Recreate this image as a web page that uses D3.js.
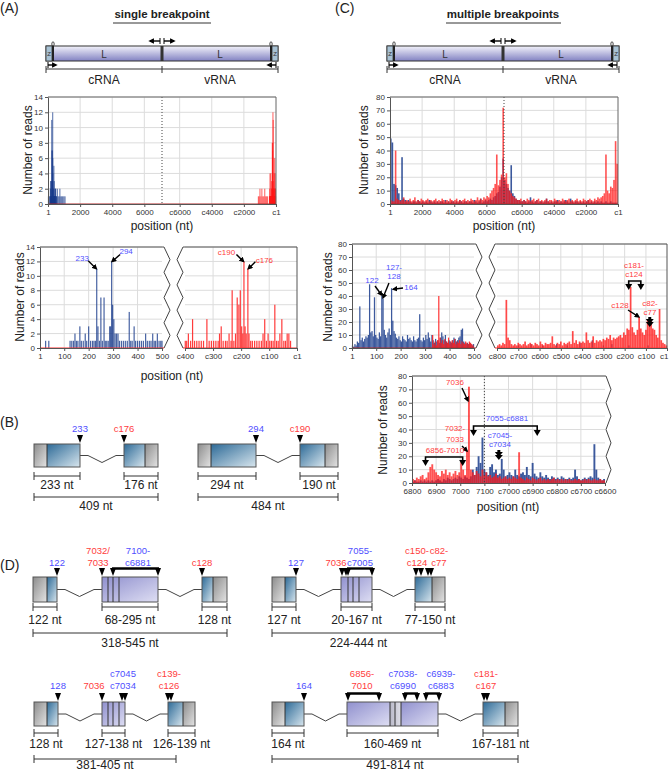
<!DOCTYPE html>
<html>
<head>
<meta charset="utf-8">
<script src="https://cdn.jsdelivr.net/npm/d3@7/dist/d3.min.js"></script>
<style>
  body { margin: 0; background: #fff; }
  svg { font-family: "Liberation Sans", Arial, sans-serif; }
</style>
</head>
<body>
<svg id="fig" width="669" height="771"></svg>
<script>
// length of the L segment on the concatenated cRNA | vRNA axis
const L = 7100;

// ---------- tick labels ----------
const overTickLabels = ["1", "2000", "4000", "6000", "c6000", "c4000", "c2000", "c1"];
const aLeftTicks = ["1", "100", "200", "300", "400", "500"];
const aRightTicks = ["c400", "c300", "c200", "c100", "c1"];
const cLeftTicks = ["1", "100", "200", "300", "400", "500"];
const cRightTicks = ["c800", "c700", "c600", "c500", "c400", "c300", "c200", "c100", "c1"];
const c3Ticks = ["6800", "6900", "7000", "7100", "c7000", "c6900", "c6800", "c6700", "c6600"];

// ---------- (A) single breakpoint : [position, reads] ----------
const aBlue = [[24,1],[37,1],[124,1],[131,1],[138,1],[144,2],[150,1],[156,1],[164,3],[170,1],[178,1],[186,2],[192,1],[200,3],[208,1],[216,1],[222,1],[228,1],[233,11],[238,3],[244,1],[250,7],[256,1],[263,7],[268,1],[274,1],[280,1],[286,3],[290,3],[294,12],[298,6],[303,4],[308,2],[314,2],[320,2],[326,1],[334,1],[342,1],[350,1],[358,1],[366,5],[372,1],[378,1],[386,3],[392,1],[400,1],[408,1],[416,1],[424,1],[433,2],[440,1],[448,1],[455,1],[462,2],[468,1],[474,1],[481,2],[488,1],[495,1],[500,1]];
const aBlueFar = [[540,1],[580,2],[630,1],[690,1],[740,2],[800,1],[860,1],[920,1],[990,1],[1060,1]];
// vRNA side, [c-position, reads]
const aRed = [[399,1],[394,1],[388,2],[380,1],[373,4],[366,1],[358,1],[350,1],[342,1],[334,1],[322,4],[314,1],[306,1],[298,1],[290,1],[282,1],[277,2],[271,3],[264,1],[256,1],[250,1],[243,2],[236,1],[232,8],[226,1],[220,2],[214,7],[208,6],[203,8],[198,3],[194,2],[190,12],[186,3],[182,2],[176,11],[172,2],[166,1],[160,1],[152,1],[144,1],[136,1],[128,1],[122,2],[116,4],[110,1],[104,2],[98,1],[92,1],[86,1],[80,6],[74,1],[68,1],[62,2],[55,4],[48,1],[42,1],[36,2],[30,2],[24,1]];
const aRedFar = [[1100,1],[1050,1],[1000,2],[940,1],[880,2],[820,1],[760,1],[700,2],[640,1],[580,1],[520,1]];

// ---------- (C) multiple breakpoints ----------
// overview, reads per 100 nt along the concatenated axis
const cOverBlue = [49,46,15,14,12,8,3,35,4,3, 2,3,2,1,2,2,1,3,2,1, 2,1,2,1,3,2,1,2,1,2, 1,2,2,1,3,1,2,1,2,2, 1,2,1,3,2,1,2,2,1,2, 2,1,3,2,1,2,4,1,2,3, 2,3,4,3,5,6,8,9,13,20, 34,18,15,12,10,29,8,6,4,3, 3,2,2,3,2,1,2,5,2,1, 2,3,1,2,2,1,2,4,2,1, 2,1,2,2,3,1,2,1,2,3, 2,1,4,2,1,2,2,1,2,1, 2,1,2,3,1,2,1,2,1,2, 1,2,1,1,2,1,1,2,1,1, 1,1];
const cOverRed = [3,2,2,40,4,3,2,3,5,2, 3,2,4,2,3,5,2,3,2,4, 3,2,3,4,2,3,2,3,4,2, 3,2,4,3,2,3,2,4,3,2, 3,4,2,3,2,3,4,2,3,2, 4,3,2,3,5,3,4,3,5,4, 6,5,8,10,12,15,37,14,18,22, 72,20,23,15,10,8,6,5,4,3, 3,4,2,3,2,4,3,2,3,4, 2,3,4,2,3,2,3,4,2,3, 3,2,4,3,2,3,2,4,3,2, 3,4,2,3,2,3,4,2,3,2, 4,3,2,3,4,3,2,4,3,5, 4,5,6,8,37,10,8,13,12,18, 47,30];
// cRNA 1-500, reads per 5 nt
const cLeftBlue = [2,1,3,2,5,4,32,6,8,5, 7,9,8,10,49,12,13,9,39,10, 8,7,12,9,40,38,14,10,8,12, 15,10,46,21,13,11,8,7,9,6, 5,9,7,6,5,10,7,8,6,5, 9,6,5,7,8,26,6,5,8,6, 10,7,12,8,5,10,6,4,7,5, 6,4,8,12,9,6,10,5,4,6, 5,4,6,8,7,5,6,8,9,14, 15,5,4,3,4,3,4,3,2,3];
const cLeftRed = [[331,10],[336,3],[341,5],[346,2],[351,6],[356,40],[361,8],[366,4],[371,6],[376,3],[381,7],[386,5],[391,4],[396,8],[401,3],[406,5],[411,6],[416,4],[421,7],[426,3],[431,5],[436,4],[441,6],[446,3],[451,5],[456,4],[461,3],[466,5],[471,4],[476,3],[481,5],[486,4],[491,3],[496,2]];
// vRNA c800-c1, reads per 8 nt
const cRightRed = [2,3,2,4,3,37,8,6,3,2, 3,2,4,3,2,3,5,2,3,4, 3,2,4,3,2,5,3,2,4,3, 3,4,9,3,2,4,3,5,2,4, 3,4,5,3,13,4,6,3,5,4, 5,4,12,6,4,5,9,4,6,5, 6,5,7,6,8,7,10,6,8,7, 8,9,10,8,12,10,15,14,47,16, 12,10,14,24,15,12,10,14,22,18, 22,15,14,10,8,30,6,4,3,2];
const cRightBlue = [[700,2],[640,3],[585,2],[520,3],[470,2],[410,4],[352,6],[300,2],[260,3],[180,2],[90,2]];
// junction 6800-7100 | c7100-c6600, reads per 8 nt
const c3Blue = [1,2,1,1,2,1,2,1,2,1, 2,1,2,3,2,1,3,2,4,3, 2,3,4,3,5,4,3,5,4,3, 5,10,6,12,20,15,34,10,8,6, 12,14,8,10,6,7,18,10,5,6, 8,6,5,10,6,5,7,8,6,12, 6,5,15,7,5,4,8,5,4,6, 4,3,5,4,3,4,3,5,4,3, 3,4,3,4,10,5,3,2,3,4, 3,4,5,4,29,10,4,3,2,3];
const c3Red = [3,2,4,3,5,6,3,4,8,12, 14,10,8,6,5,9,7,10,6,8, 5,7,9,6,8,16,10,6,24,72, 10,8,6,9,7,5,10,6,8,5, 6,4,5,7,4,5,3,4,5,3, 4,3,5,4,3,23,4,3,2,4, 3,2,4,3,2,3,4,2,3,2, 3,2,3,4,2,3,2,3,2,3, 2,3,2,2,3,2,3,2,2,3, 2,3,2,2,3,2,2,3,2,2];

// ---------- (B) / (D) junction labels ----------
const bSites = [
  [{t: ["233"], c: "b"}, {t: ["c176"], c: "r"}],
  [{t: ["294"], c: "b"}, {t: ["c190"], c: "r"}]
];
const bLengths = [["233 nt", "176 nt", "409 nt"], ["294 nt", "190 nt", "484 nt"]];
const dSites = [
  [{t: ["122"], c: "b"}, {t: ["7032/", "7033"], c: "r"}, {t: ["7100-", "c6881"], c: "b"}, {t: ["c128"], c: "r"}],
  [{t: ["127"], c: "b"}, {t: ["7036"], c: "r"}, {t: ["7055-", "c7005"], c: "b"}, {t: ["c150-", "c124"], c: "r"}, {t: ["c82-", "c77"], c: "r"}],
  [{t: ["128"], c: "b"}, {t: ["7036"], c: "r"}, {t: ["c7045", "c7034"], c: "b"}, {t: ["c139-", "c126"], c: "r"}],
  [{t: ["164"], c: "b"}, {t: ["6856-", "7010"], c: "r"}, {t: ["c7038-", "c6990"], c: "b"}, {t: ["c6939-", "c6883"], c: "b"}, {t: ["c181-", "c167"], c: "r"}]
];
const dLengths = [
  ["122 nt", "68-295 nt", "128 nt", "318-545 nt"],
  ["127 nt", "20-167 nt", "77-150 nt", "224-444 nt"],
  ["128 nt", "127-138 nt", "126-139 nt", "381-405 nt"],
  ["164 nt", "160-469 nt", "167-181 nt", "491-814 nt"]
];

// ================= drawing =================
const BLUE = "#1a3c8c", RED = "#ff1a1a", TBLUE = "#4f4fff", TRED = "#ff3d3d";
const svg = d3.select("#fig");
const defs = svg.append("defs");

function lin(id, x2, y2, stops) {
  const g = defs.append("linearGradient").attr("id", id)
    .attr("x1", 0).attr("y1", 0).attr("x2", x2).attr("y2", y2);
  stops.forEach(([o, c]) => g.append("stop").attr("offset", o).attr("stop-color", c));
}
lin("gBar", 0, 1, [[0, "#f3f3fb"], [1, "#8282c2"]]);
lin("gGray", 1, 1, [[0, "#8c8c8c"], [1, "#e4e4e4"]]);
lin("gBlue", 1, 1, [[0, "#2d6a97"], [1, "#d8e6ee"]]);
lin("gLav", 1, 1, [[0, "#9090ce"], [1, "#dedef3"]]);
lin("gStrip", 1, 0, [[0, "#b8b8c8"], [1, "#e0e0e8"]]);

defs.append("marker").attr("id", "ah").attr("viewBox", "0 0 10 10")
  .attr("refX", 7).attr("refY", 5).attr("markerWidth", 4).attr("markerHeight", 4)
  .attr("orient", "auto")
  .append("path").attr("d", "M0,0L10,5L0,10z").attr("fill", "#000");

function pos(lbl) { return lbl[0] === "c" ? 2 * L - +lbl.slice(1) : +lbl; }
function cnum(lbl) { return lbl[0] === "c" ? +lbl.slice(1) : +lbl; }
function binned(counts, start, step) { return counts.map((v, i) => [start + step * i, v]); }

function text(x, y, s, size, fill = "#222", anchor = "middle") {
  return svg.append("text").attr("x", x).attr("y", y).attr("font-size", size)
    .attr("fill", fill).attr("text-anchor", anchor).text(s);
}
function line(pts, o = {}) {
  return svg.append("path").attr("d", d3.line()(pts)).attr("fill", "none")
    .attr("stroke", o.stroke || "#444").attr("stroke-width", o.w || 1)
    .attr("stroke-dasharray", o.dash || null);
}
function arrow(x1, y1, x2, y2) {
  svg.append("line").attr("x1", x1).attr("y1", y1).attr("x2", x2).attr("y2", y2)
    .attr("stroke", "#000").attr("stroke-width", 1.4).attr("marker-end", "url(#ah)");
}
function yTitle(x, y, s) {
  svg.append("text").attr("transform", `translate(${x},${y}) rotate(-90)`)
    .attr("text-anchor", "middle").attr("font-size", 12).attr("fill", "#222").text(s);
}
function styleAxis(s) {
  s.attr("font-family", null).attr("font-size", null);
  s.select(".domain").attr("stroke", "#555");
  s.selectAll(".tick line").attr("stroke", "#555");
  s.selectAll(".tick text").attr("fill", "#333").attr("font-size", 8);
}
function xAxis(x, y0, ticks, labels) {
  return svg.append("g").attr("transform", `translate(0,${y0})`)
    .call(d3.axisBottom(x).tickValues(ticks).tickFormat((d, i) => labels[i])
      .tickSize(3).tickPadding(2).tickSizeOuter(0))
    .call(styleAxis);
}
function yAxis(y, x0, ticks) {
  svg.append("g").attr("transform", `translate(${x0},0)`)
    .call(d3.axisLeft(y).tickValues(ticks).tickSize(3).tickPadding(2).tickSizeOuter(0))
    .call(styleAxis);
}
function grid(x, y, xt, yt) {
  const [x0, x1] = x.range(), [y0, y1] = y.range();
  const g = svg.append("g").attr("stroke", "#dcdcdc");
  g.selectAll(null).data(yt).join("line")
    .attr("x1", x0).attr("x2", x1).attr("y1", d => y(d)).attr("y2", d => y(d));
  g.selectAll(null).data(xt).join("line")
    .attr("x1", d => x(d)).attr("x2", d => x(d)).attr("y1", y0).attr("y2", y1);
}
function bars(x, y, data, color, w, op) {
  svg.append("g").selectAll("rect").data(data).join("rect")
    .attr("x", d => x(d[0]) - w / 2).attr("width", w)
    .attr("y", d => y(d[1])).attr("height", d => y(0) - y(d[1]))
    .attr("fill", color).attr("fill-opacity", op);
}
function zig(x, yTop, yBot, amp) {
  const n = 4;
  line(d3.range(2 * n + 1).map(i => [i % 2 ? x + amp : x, yTop + (yBot - yTop) * i / (2 * n)]));
}
function bracketArrows(x0, x1, y, drop) {
  line([[x0, y + drop], [x0, y], [x1, y], [x1, y + drop]], {stroke: "#000", w: 1.6});
  [x0, x1].forEach(xv => svg.append("path")
    .attr("d", `M${xv - 3.5},${y + drop - 1}L${xv + 3.5},${y + drop - 1}L${xv},${y + drop + 5}Z`).attr("fill", "#000"));
}
function doubleArrow(xv, y) {
  line([[xv, y], [xv, y + 3]], {stroke: "#000", w: 3});
  [0, 3].forEach(dy => svg.append("path")
    .attr("d", `M${xv - 4},${y + 2 + dy}L${xv + 4},${y + 2 + dy}L${xv},${y + 7 + dy}Z`).attr("fill", "#000"));
}

// ---------- panel letters and titles ----------
text(0, 13, "(A)", 14, "#222", "start");
text(335, 13, "(C)", 14, "#222", "start");
text(0, 427, "(B)", 14, "#222", "start");
text(0, 570, "(D)", 14, "#222", "start");
[["single breakpoint", 162, 113, 211], ["multiple breakpoints", 503, 446, 561]].forEach(([s, cx, u0, u1]) => {
  text(cx, 18, s, 11.5).attr("font-weight", "bold");
  line([[u0, 23], [u1, 23]], {stroke: "#333"});
});

// ---------- genome schematics ----------
function schematic(x0, x1, cx) {
  const t = 46, b = 61;
  svg.append("rect").attr("x", x0).attr("y", t).attr("width", x1 - x0).attr("height", b - t)
    .attr("fill", "url(#gBar)").attr("stroke", "#333");
  [[x0, 1], [x1, -1]].forEach(([e, s]) => {
    const bx = s > 0 ? e : e - 6;
    svg.append("rect").attr("x", bx).attr("y", t).attr("width", 6).attr("height", b - t)
      .attr("fill", "#a8c2d4").attr("stroke", "#333").attr("stroke-width", 0.8);
    text(bx + 3, t + 10, "Z", 6, "#333");
    const lx = e + s * 7;
    svg.append("rect").attr("x", lx - 1).attr("y", t).attr("width", 2).attr("height", b - t).attr("fill", "#222");
    svg.append("ellipse").attr("cx", lx).attr("cy", t - 2).attr("rx", 1.2).attr("ry", 2.2)
      .attr("fill", "none").attr("stroke", "#222").attr("stroke-width", 0.8);
  });
  svg.append("rect").attr("x", cx - 1.5).attr("y", t).attr("width", 3).attr("height", b - t).attr("fill", "#333");
  text((x0 + cx) / 2, 58, "L", 10, "#333");
  text((cx + x1) / 2, 58, "L", 10, "#333");
  // strand arrows
  line([[cx - 2, 38], [cx - 2, 44]], {stroke: "#000"});
  line([[cx + 2, 38], [cx + 2, 44]], {stroke: "#000"});
  arrow(cx - 2, 41, cx - 12, 41);
  arrow(cx + 2, 41, cx + 12, 41);
  line([[x0 + 2, 62], [x0 + 2, 68]], {stroke: "#000"});
  line([[x1 - 2, 62], [x1 - 2, 68]], {stroke: "#000"});
  arrow(x0 + 2, 65, x0 + 10, 65);
  arrow(x1 - 2, 65, x1 - 10, 65);
  // cRNA / vRNA bracket
  line([[x0, 69], [x1, 69]], {stroke: "#333"});
  [x0, cx, x1].forEach(xv => line([[xv, 66], [xv, 73]], {stroke: "#333"}));
  text((x0 + cx) / 2, 84, "cRNA", 12);
  text((cx + x1) / 2, 84, "vRNA", 12);
}
schematic(46, 278, 162);
schematic(387, 619, 503);

// ---------- overview charts ----------
function overview(left, top, yMax, yStep, blue, red, w, opB, opR) {
  const x = d3.scaleLinear().domain([0, 2 * L]).range([left, left + 228]);
  const y = d3.scaleLinear().domain([0, yMax]).range([top + 107, top]);
  const yt = d3.range(0, yMax + 1, yStep);
  const xt = overTickLabels.map(pos);
  grid(x, y, xt.slice(1, -1), yt.slice(1));
  bars(x, y, blue, BLUE, w, opB);
  bars(x, y, red, RED, w, opR);
  line([[x(0), y(0)], [x(2 * L), y(0)]], {stroke: "#b02828"});
  line([[x(L), top], [x(L), top + 107]], {stroke: "#444", dash: "1,2"});
  line([[left, top], [left + 228, top], [left + 228, top + 107]], {stroke: "#666"});
  xAxis(x, top + 107, xt, overTickLabels);
  yAxis(y, left, yt);
  text(left + 114, 230, "position (nt)", 12);
}
overview(48, 97, 14, 2,
  aBlue.concat(aBlueFar),
  aRed.concat(aRedFar).map(d => [2 * L - d[0], d[1]]), 1, 0.75, 0.7);
yTitle(32, 150, "Number of reads");

overview(390, 97, 80, 10,
  binned(cOverBlue, 50, 100), binned(cOverRed, 50, 100), 1.6, 0.85, 0.75);
yTitle(368, 150, "Number of reads");

// ---------- (A) detail charts ----------
const yA = d3.scaleLinear().domain([0, 14]).range([348, 247]);
const yAt = d3.range(0, 15, 2);
const xAl = d3.scaleLinear().domain([1, 500]).range([40, 162]);
const xAr = d3.scaleLinear().domain([400, 1]).range([185, 297]);
grid(xAl, yA, aLeftTicks.slice(1, -1).map(cnum), yAt.slice(1));
grid(xAr, yA, aRightTicks.slice(1, -1).map(cnum), yAt.slice(1));
bars(xAl, yA, aBlue, BLUE, 1.2, 0.8);
bars(xAr, yA, aRed, RED, 1.2, 0.85);
line([[40, 348], [164, 348]], {stroke: "#ff3030", w: 1.2});
line([[183, 348], [297, 348]], {stroke: "#ff3030", w: 1.2});
xAxis(xAl, 348, aLeftTicks.map(cnum), aLeftTicks);
xAxis(xAr, 348, aRightTicks.map(cnum), aRightTicks);
yAxis(yA, 40, yAt);
line([[40, 247], [164, 247]], {stroke: "#555"});
zig(164, 247, 348, 6);
line([[183, 247], [297, 247], [297, 348]], {stroke: "#555"});
zig(183, 247, 348, -6);
yTitle(24, 297, "Number of reads");
text(172, 380, "position (nt)", 12);
{
  let tx = xAl(233) - 0.5, ty = yA(11);
  arrow(tx - 8, ty - 8, tx, ty); text(tx - 14, ty - 8, "233", 8, TBLUE);
  tx = xAl(294) + 0.5; ty = yA(12);
  arrow(tx + 8, ty - 7, tx, ty); text(tx + 14, ty - 7, "294", 8, TBLUE);
  tx = xAr(190) - 0.5; ty = yA(12);
  arrow(tx - 7, ty - 7, tx, ty); text(tx - 17, ty - 6, "c190", 8, TRED);
  tx = xAr(176) + 0.5; ty = yA(11);
  arrow(tx + 7, ty - 7, tx, ty); text(tx + 16, ty - 6, "c176", 8, TRED);
}

// ---------- (C) detail charts ----------
const yC = d3.scaleLinear().domain([0, 80]).range([348, 244]);
const yCt = d3.range(0, 81, 10);
const xCl = d3.scaleLinear().domain([1, 500]).range([352, 474]);
const xCr = d3.scaleLinear().domain([800, 1]).range([497, 667]);
grid(xCl, yC, cLeftTicks.slice(1, -1).map(cnum), yCt.slice(1));
grid(xCr, yC, cRightTicks.slice(1, -1).map(cnum), yCt.slice(1));
bars(xCl, yC, binned(cLeftBlue, 3, 5), BLUE, 1.25, 0.85);
bars(xCl, yC, cLeftRed, RED, 1.25, 0.85);
bars(xCr, yC, cRightBlue, BLUE, 1.2, 0.8);
bars(xCr, yC, binned(cRightRed, 796, -8), RED, 1.7, 0.8);
line([[352, 348], [476, 348]], {stroke: "#b02828", w: 1.2});
line([[495, 348], [667, 348]], {stroke: "#ff3030", w: 1.2});
xAxis(xCl, 348, cLeftTicks.map(cnum), cLeftTicks);
xAxis(xCr, 348, cRightTicks.map(cnum), cRightTicks)
  .selectAll(".tick:last-of-type text").attr("text-anchor", "end").attr("dx", 1);
yAxis(yC, 352, yCt);
line([[352, 244], [476, 244]], {stroke: "#555"});
zig(476, 244, 348, 6);
line([[495, 244], [667, 244], [667, 348]], {stroke: "#555"});
zig(495, 244, 348, -6);
yTitle(332, 297, "Number of reads");
{
  text(372, 283, "122", 8, TBLUE);
  arrow(375, 286, xCl(122), yC(40) - 1);
  text(394, 270, "127-", 8, TBLUE);
  text(394, 279, "128", 8, TBLUE);
  arrow(389, 283, xCl(128), yC(38) - 1);
  text(411, 290, "164", 8, TBLUE);
  arrow(403, 288, xCl(164) + 1.5, yC(46) + 1);
  text(634, 268, "c181-", 8, TRED);
  text(634, 277, "c124", 8, TRED);
  bracketArrows(xCr(181), xCr(124), 281, 4);
  text(620, 308, "c128", 8, TRED);
  arrow(628, 310, xCr(134), yC(24));
  text(650, 306, "c82-", 8, TRED);
  text(650, 315, "c77", 8, TRED);
  doubleArrow(xCr(82), 317);
}

// ---------- (C) junction detail ----------
const y3 = d3.scaleLinear().domain([0, 80]).range([483, 376]);
const x3 = d3.scaleLinear().domain([6800, 7600]).range([412, 605]);
const x3t = c3Ticks.map(pos);
grid(x3, y3, x3t.slice(1, -1), yCt.slice(1));
bars(x3, y3, binned(c3Blue, 6804, 8), BLUE, 1.9, 0.85);
bars(x3, y3, binned(c3Red, 6804, 8), RED, 1.9, 0.75);
line([[x3(7100), 376], [x3(7100), 483]], {stroke: "#444", dash: "1,2"});
xAxis(x3, 483, x3t, c3Ticks);
yAxis(y3, 412, yCt);
line([[412, 376], [606, 376]], {stroke: "#555"});
zig(606, 376, 483, 5);
yTitle(387, 430, "Number of reads");
text(508, 511, "position (nt)", 12);
{
  text(455, 385, "7036", 8, TRED);
  arrow(462, 388, x3(7036) - 1, y3(72) + 14);
  text(455, 431, "7032-", 8, TRED);
  text(455, 442, "7033", 8, TRED);
  arrow(462, 446, x3(7032) - 1, y3(24));
  text(445, 453, "6856-7010", 8, TRED);
  bracketArrows(x3(6856), x3(7010), 457, 4);
  text(507, 421, "7055-c6881", 8, TBLUE);
  bracketArrows(x3(7055), x3(pos("c6881")), 426, 5);
  text(500, 438, "c7045-", 8, TBLUE);
  text(500, 447, "c7034", 8, TBLUE);
  doubleArrow(x3(pos("c7040")), 450);
}

// ---------- (B) and (D) junction constructs ----------
function construct(c, sites, lens) {
  const mid = c.top + c.h / 2;
  for (let i = 0; i < c.groups.length - 1; i++) {
    const a = c.groups[i].segs[c.groups[i].segs.length - 1][1], b = c.groups[i + 1].segs[0][0];
    line([[a, mid], [a + 8, mid], [(a + b) / 2, mid + 7], [b - 8, mid], [b, mid]], {stroke: "#444"});
  }
  c.groups.forEach(gr => {
    gr.segs.forEach(([x0, x1, f]) => svg.append("rect").attr("x", x0).attr("y", c.top)
      .attr("width", x1 - x0).attr("height", c.h).attr("fill", `url(#${f})`));
    const x0 = gr.segs[0][0], x1 = gr.segs[gr.segs.length - 1][1];
    svg.append("rect").attr("x", x0).attr("y", c.top).attr("width", x1 - x0).attr("height", c.h)
      .attr("fill", "none").attr("stroke", "#555");
    gr.div.forEach(d => line([[d, c.top], [d, c.top + c.h]], {stroke: "#333"}));
  });
  const tip = c.top - 1, tt = c.top - 9;
  c.marks.forEach((m, i) => {
    const s = sites[i];
    const xs = m.br || m.x;
    if (m.br) line([[m.br[0] - 1, tt + 0.5], [m.br[1] + 1, tt + 0.5]], {stroke: "#000", w: 2.4});
    xs.forEach(xv => svg.append("path").attr("d", `M${xv - 3},${tt}L${xv + 3},${tt}L${xv},${tip}Z`).attr("fill", "#000"));
    const lx = m.lx != null ? m.lx : d3.mean(xs);
    const col = s.c === "b" ? TBLUE : TRED;
    s.t.forEach((t, j) => text(lx, c.labelY - (s.t.length - 1 - j) * 12, t, 9.5, col));
  });
  const span = (a, b, y) => {
    line([[a, y], [b, y]], {stroke: "#333"});
    [a, b].forEach(xv => line([[xv, y - 4], [xv, y + 4]], {stroke: "#333"}));
  };
  c.spans.forEach((sp, i) => { span(sp[0], sp[1], c.spanY); text((sp[0] + sp[1]) / 2, c.textY, lens[i], 12); });
  span(c.total[0], c.total[1], c.totalY);
  text((c.total[0] + c.total[1]) / 2, c.totalTextY, lens[lens.length - 1], 12);
}

const rowB = {top: 444, h: 23, labelY: 432, spanY: 476, textY: 489, totalY: 497, totalTextY: 510};
const rowD1 = {top: 577, h: 25, labelY: 566, spanY: 607, textY: 624, totalY: 633, totalTextY: 647};
const rowD2 = {top: 702, h: 24, labelY: 689, spanY: 733, textY: 748, totalY: 759, totalTextY: 769};

construct(Object.assign({}, rowB, {
  groups: [{segs: [[34, 47, "gGray"], [47, 80, "gBlue"]], div: [47]},
           {segs: [[124, 145, "gBlue"], [145, 158, "gGray"]], div: [145]}],
  marks: [{x: [80]}, {x: [124]}],
  spans: [[34, 80], [124, 158]], total: [34, 158]
}), bSites[0], bLengths[0]);
construct(Object.assign({}, rowB, {
  groups: [{segs: [[198, 211, "gGray"], [211, 256, "gBlue"]], div: [211]},
           {segs: [[300, 325, "gBlue"], [325, 338, "gGray"]], div: [325]}],
  marks: [{x: [256]}, {x: [300]}],
  spans: [[198, 256], [300, 338]], total: [198, 338]
}), bSites[1], bLengths[1]);

construct(Object.assign({}, rowD1, {
  groups: [{segs: [[33, 47, "gGray"], [47, 57, "gBlue"]], div: [47]},
           {segs: [[102, 158, "gLav"]], div: [108, 113, 119]},
           {segs: [[202, 213, "gBlue"], [213, 227, "gGray"]], div: [213]}],
  marks: [{x: [57]}, {x: [102], lx: 98}, {br: [113, 158], lx: 138}, {x: [202]}],
  spans: [[33, 57], [102, 158], [202, 227]], total: [33, 227]
}), dSites[0], dLengths[0]);
construct(Object.assign({}, rowD1, {
  groups: [{segs: [[272, 285, "gGray"], [285, 296, "gBlue"]], div: [285]},
           {segs: [[341, 372, "gLav"]], div: [348, 353, 359]},
           {segs: [[415, 432, "gBlue"], [432, 445, "gGray"]], div: [432]}],
  marks: [{x: [296]}, {x: [342, 346], lx: 336}, {br: [348, 372], lx: 360},
          {x: [416, 421], lx: 417}, {x: [428, 431], lx: 439}],
  spans: [[272, 296], [341, 372], [415, 445]], total: [272, 445]
}), dSites[1], dLengths[1]);
construct(Object.assign({}, rowD2, {
  groups: [{segs: [[34, 47, "gGray"], [47, 58, "gBlue"]], div: [47]},
           {segs: [[102, 125, "gLav"]], div: [108, 113, 119]},
           {segs: [[168, 183, "gBlue"], [183, 195, "gGray"]], div: [183]}],
  marks: [{x: [58]}, {x: [102], lx: 94}, {x: [122, 125], lx: 123}, {x: [168, 171], lx: 169}],
  spans: [[34, 58], [102, 125], [168, 195]], total: [34, 176]
}), dSites[2], dLengths[2]);
construct(Object.assign({}, rowD2, {
  groups: [{segs: [[272, 285, "gGray"], [285, 304, "gBlue"]], div: [285]},
           {segs: [[347, 390, "gLav"], [390, 401, "gStrip"], [401, 438, "gLav"]], div: [390, 395, 401]},
           {segs: [[483, 505, "gBlue"], [505, 518, "gGray"]], div: [505]}],
  marks: [{x: [304]}, {br: [348, 379], lx: 362}, {br: [405, 417], lx: 403},
          {br: [426, 439], lx: 441}, {x: [484, 487], lx: 486}],
  spans: [[272, 304], [347, 438], [483, 518]], total: [272, 518]
}), dSites[3], dLengths[3]);
</script>
</body>
</html>
